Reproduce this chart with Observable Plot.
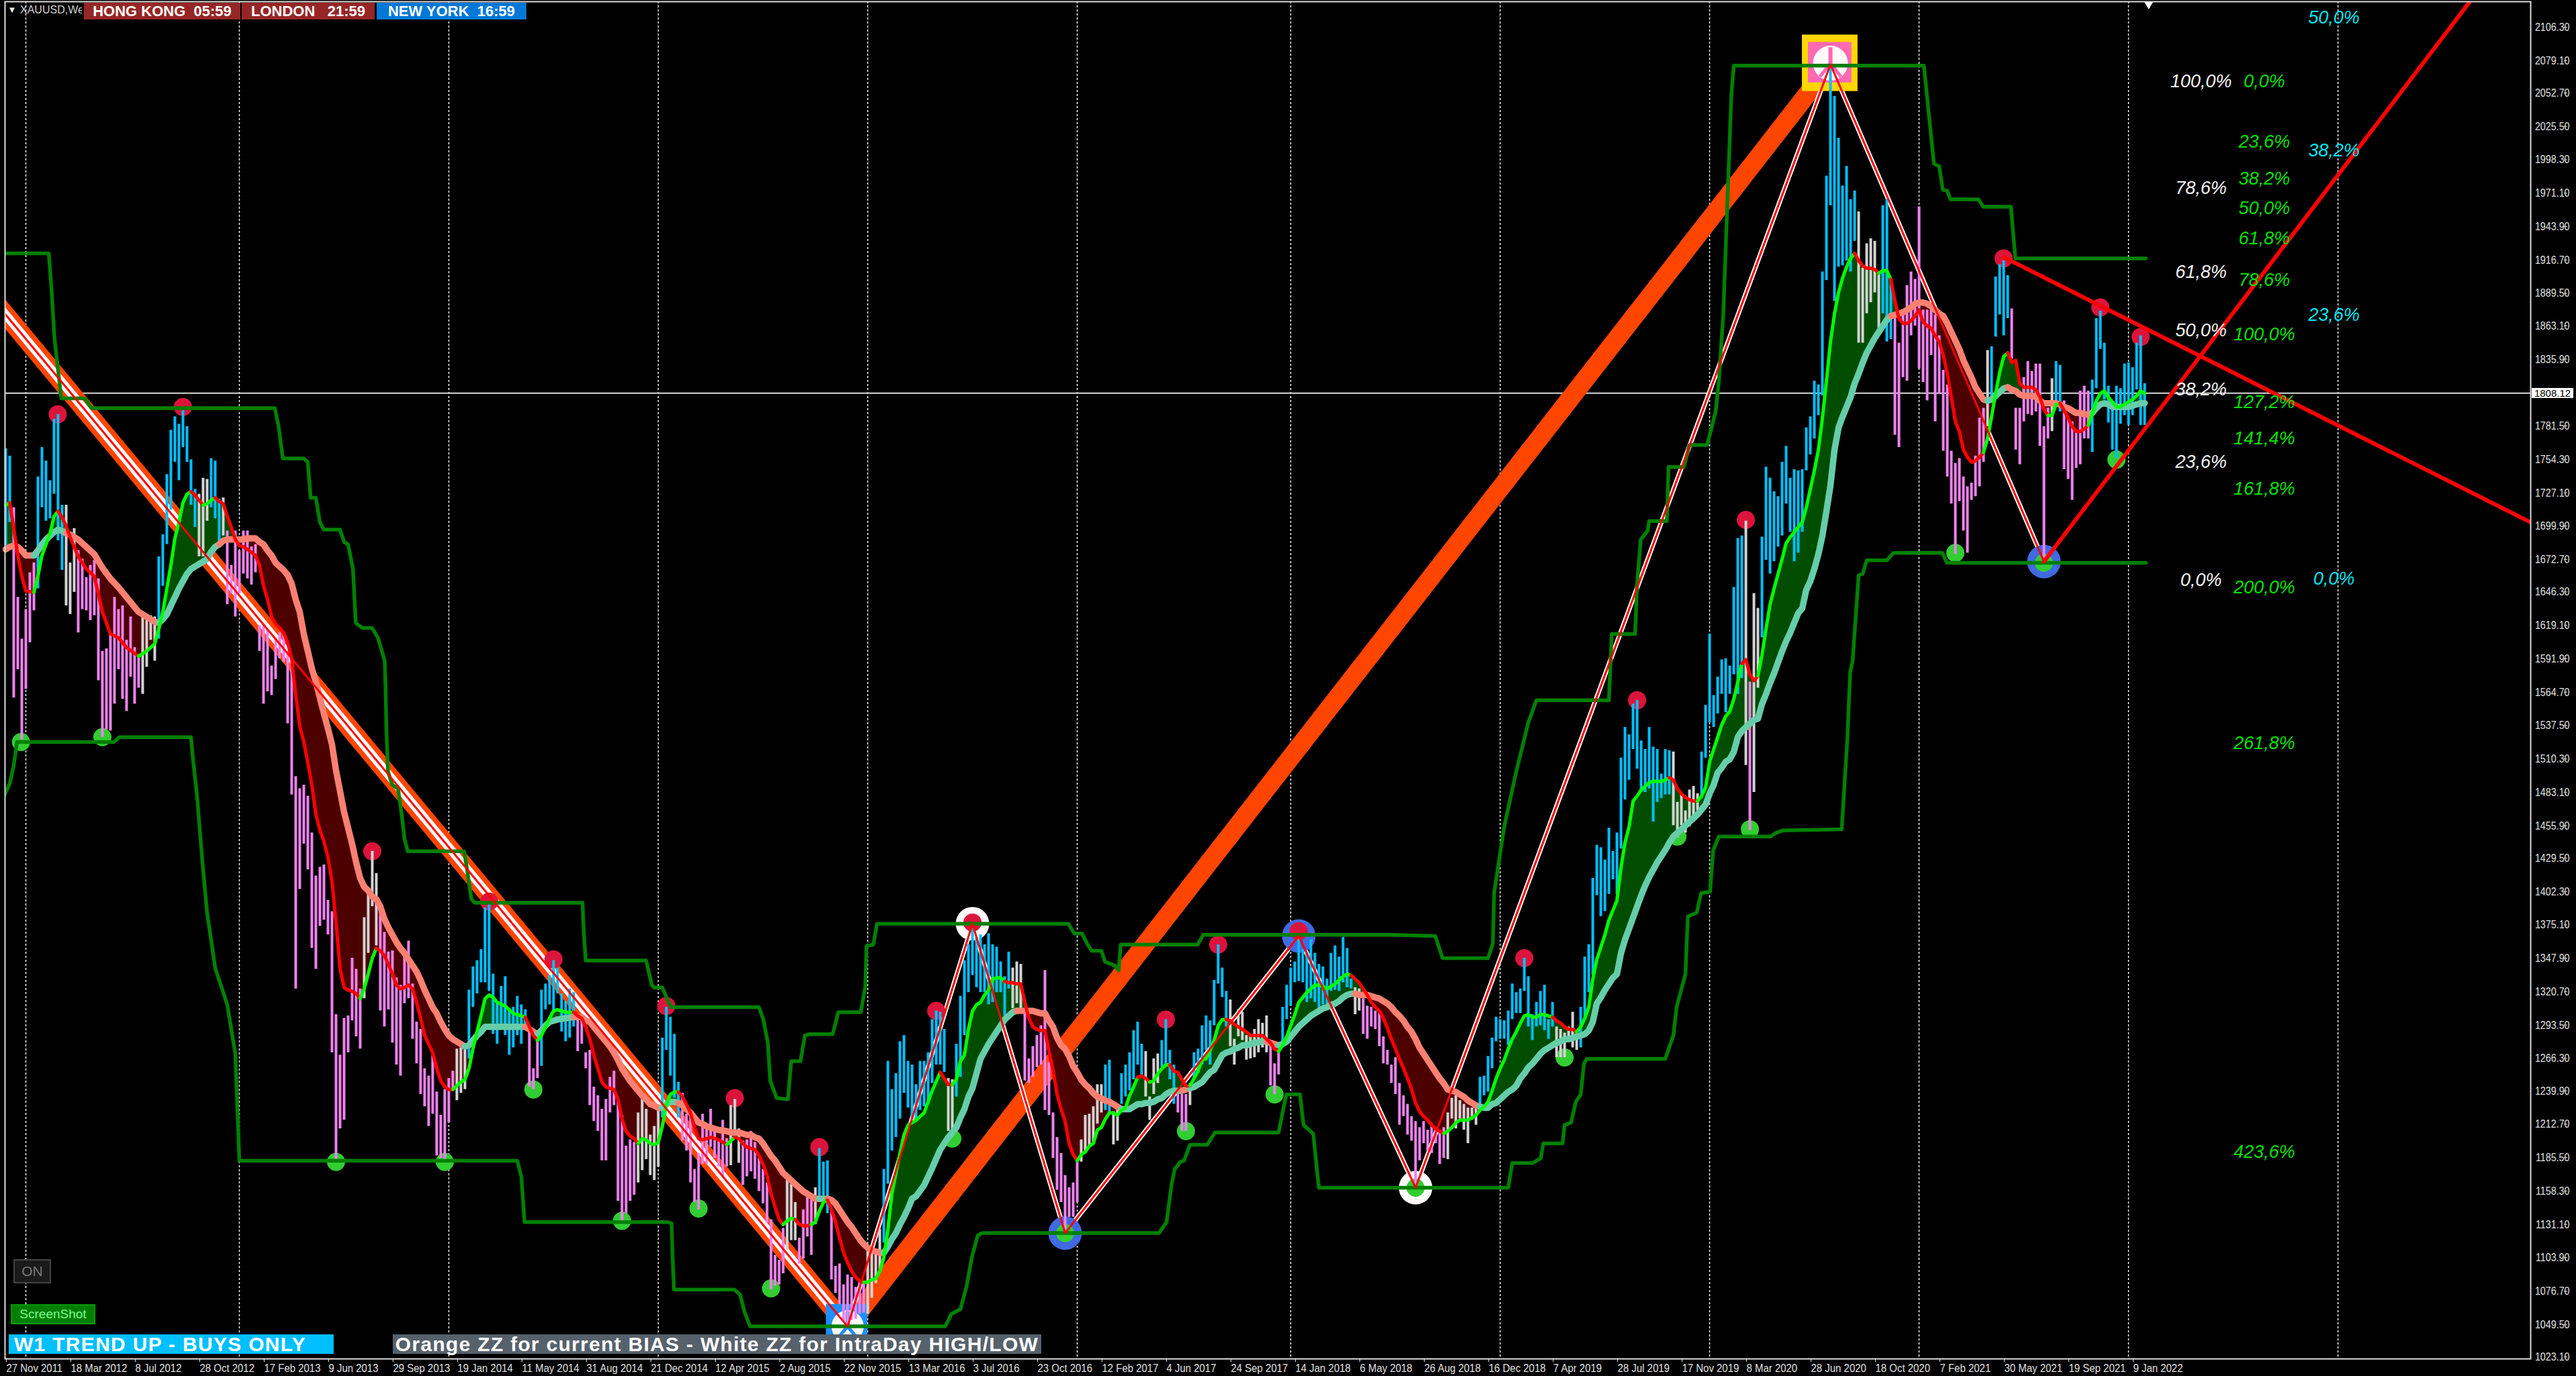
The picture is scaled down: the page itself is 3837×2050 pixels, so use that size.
<!DOCTYPE html>
<html><head><meta charset="utf-8">
<script src="https://cdn.jsdelivr.net/npm/d3@7"></script>
<script src="https://cdn.jsdelivr.net/npm/@observablehq/plot@0.6"></script>
<style>
html,body{margin:0;padding:0;background:#000;width:3837px;height:2050px;overflow:hidden}
#wrap{position:relative;width:3837px;height:2050px}
#wrap svg{display:block}
.tag{position:absolute;display:flex;align-items:center;justify-content:center;white-space:pre;font-family:"Liberation Sans",Arial,sans-serif;color:#fff;font-weight:bold;box-sizing:border-box}
</style></head><body><div id="wrap"></div>
<script>
// week index 0 = 27 Nov 2011, one entry per weekly bar
const barHigh=[
1763,1757,1715,1642,1608,1632,1662,1670,1740,1764,1753,1737,1787,1791,1717,1717,1670,1698,1680,1673,
1658,1668,1672,1657,1598,1600,1611,1642,1632,1635,1607,1626,1601,1594,1630,1628,1627,1626,1675,1693,
1742,1778,1789,1783,1794,1781,1754,1730,1726,1739,1738,1755,1753,1722,1723,1696,1668,1696,1680,1696,
1696,1683,1685,1619,1620,1615,1586,1609,1613,1611,1598,1592,1496,1486,1489,1480,1450,1415,1422,1424,
1395,1386,1302,1269,1299,1301,1348,1339,1323,1381,1401,1435,1417,1386,1369,1353,1354,1332,1326,1349,
1362,1327,1296,1290,1258,1252,1269,1239,1220,1241,1250,1256,1274,1275,1278,1322,1341,1346,1355,1389,
1392,1335,1311,1325,1333,1307,1308,1317,1310,1306,1292,1258,1281,1322,1327,1334,1346,1340,1319,1313,
1323,1320,1301,1300,1271,1273,1243,1236,1225,1233,1251,1256,1233,1220,1195,1200,1198,1222,1234,1225,
1204,1211,1224,1283,1308,1300,1286,1247,1238,1221,1219,1176,1189,1221,1210,1225,1208,1200,1216,1201,
1228,1233,1209,1199,1200,1207,1198,1185,1176,1165,1135,1106,1102,1128,1167,1164,1149,1120,1143,1153,
1151,1161,1193,1182,1183,1143,1097,1099,1082,1090,1088,1080,1084,1085,1111,1109,1108,1127,1176,1264,
1241,1254,1280,1285,1264,1261,1245,1264,1264,1271,1298,1305,1304,1290,1250,1249,1278,1317,1346,1359,
1376,1365,1367,1359,1368,1359,1357,1345,1333,1353,1340,1345,1343,1303,1266,1276,1285,1293,1338,1263,
1222,1202,1189,1171,1161,1165,1183,1200,1220,1221,1227,1245,1245,1261,1265,1223,1227,1254,1261,1271,
1289,1296,1278,1272,1235,1266,1270,1281,1298,1273,1261,1240,1237,1237,1246,1271,1274,1293,1301,1297,
1330,1359,1340,1321,1314,1282,1306,1304,1285,1284,1290,1298,1295,1301,1277,1262,1273,1308,1326,1340,
1345,1365,1355,1353,1363,1352,1343,1341,1331,1352,1358,1349,1365,1356,1331,1324,1323,1315,1309,1308,
1305,1304,1284,1273,1261,1267,1246,1236,1229,1219,1215,1210,1215,1208,1211,1208,1208,1210,1222,1234,
1236,1232,1229,1226,1226,1228,1251,1252,1268,1283,1300,1298,1297,1305,1327,1320,1323,1348,1333,1302,
1312,1321,1326,1298,1312,1292,1290,1287,1292,1304,1288,1308,1349,1359,1413,1440,1438,1428,1454,1435,
1450,1511,1536,1530,1555,1558,1525,1518,1536,1520,1518,1498,1518,1517,1516,1475,1482,1468,1485,1488,
1482,1516,1554,1612,1562,1577,1591,1592,1586,1650,1690,1692,1704,1573,1645,1633,1691,1748,1739,1728,
1724,1752,1765,1739,1746,1745,1746,1780,1789,1818,1815,1907,1985,2076,2050,2016,1977,1993,1966,1973,
1956,1910,1930,1934,1932,1905,1961,1966,1902,1871,1849,1873,1896,1907,1901,1960,1876,1876,1877,1872,
1855,1827,1815,1761,1751,1755,1740,1732,1735,1757,1788,1796,1843,1846,1903,1913,1916,1904,1877,1796,
1796,1821,1834,1826,1832,1832,1781,1796,1820,1834,1831,1802,1788,1785,1776,1810,1814,1810,1819,1869,
1875,1849,1814,1801,1814,1812,1832,1833,1829,1849,1855,1816];
const barLow=[
1684,1703,1560,1583,1526,1567,1605,1631,1649,1715,1704,1706,1726,1688,1664,1635,1628,1646,1613,1632,
1631,1623,1627,1574,1528,1534,1533,1555,1583,1559,1549,1577,1555,1568,1563,1585,1607,1590,1608,1651,
1685,1713,1752,1737,1764,1752,1717,1699,1675,1675,1704,1715,1706,1687,1692,1636,1645,1626,1645,1661,
1657,1652,1662,1598,1555,1565,1562,1575,1592,1589,1539,1481,1323,1404,1441,1420,1356,1339,1374,1379,
1367,1271,1182,1209,1216,1271,1297,1284,1274,1315,1352,1390,1358,1305,1292,1306,1279,1261,1252,1311,
1315,1282,1262,1237,1227,1211,1221,1187,1185,1182,1214,1241,1232,1238,1241,1266,1308,1319,1328,1328,
1321,1286,1278,1292,1285,1269,1275,1285,1278,1292,1243,1241,1250,1260,1306,1310,1304,1319,1288,1280,
1283,1292,1272,1278,1258,1228,1215,1207,1183,1183,1222,1228,1150,1134,1140,1150,1155,1165,1175,1184,
1171,1167,1178,1218,1273,1252,1234,1218,1199,1191,1165,1149,1143,1180,1180,1194,1185,1178,1170,1178,
1179,1203,1181,1163,1170,1174,1168,1158,1148,1132,1078,1081,1082,1091,1110,1118,1118,1099,1103,1121,
1106,1131,1154,1154,1140,1086,1075,1066,1052,1048,1053,1054,1058,1059,1058,1071,1083,1093,1116,1164,
1191,1202,1217,1238,1226,1217,1215,1224,1227,1229,1246,1261,1261,1255,1207,1205,1235,1251,1285,1320,
1334,1324,1320,1320,1310,1312,1320,1320,1300,1323,1307,1311,1306,1248,1246,1251,1259,1261,1224,1220,
1185,1159,1149,1124,1137,1137,1149,1182,1190,1195,1198,1213,1222,1224,1221,1196,1199,1229,1235,1240,
1249,1261,1251,1235,1216,1237,1246,1259,1261,1249,1229,1222,1207,1207,1228,1249,1254,1261,1273,1261,
1293,1327,1316,1292,1276,1261,1284,1281,1265,1266,1267,1271,1275,1271,1244,1237,1253,1280,1298,1309,
1328,1329,1328,1312,1315,1312,1307,1310,1310,1321,1322,1321,1328,1324,1323,1302,1305,1286,1282,1292,
1290,1276,1262,1261,1246,1237,1212,1219,1204,1199,1162,1183,1197,1191,1189,1197,1180,1185,1184,1217,
1209,1217,1208,1197,1216,1212,1229,1236,1239,1258,1280,1282,1282,1277,1298,1303,1303,1321,1292,1281,
1292,1293,1289,1282,1292,1267,1267,1267,1282,1275,1273,1275,1300,1320,1334,1399,1382,1386,1400,1412,
1400,1437,1477,1493,1518,1502,1483,1483,1486,1459,1475,1478,1481,1481,1456,1446,1456,1450,1455,1459,
1468,1478,1511,1540,1536,1547,1563,1548,1563,1579,1563,1576,1505,1452,1483,1568,1609,1672,1661,1671,
1683,1692,1718,1695,1671,1678,1695,1745,1758,1771,1790,1806,1900,1961,1883,1911,1912,1916,1907,1932,
1849,1849,1873,1882,1890,1861,1873,1850,1852,1774,1764,1821,1818,1855,1863,1828,1817,1802,1839,1785,
1808,1761,1740,1718,1677,1720,1696,1678,1721,1724,1732,1752,1781,1801,1854,1872,1855,1869,1836,1762,
1750,1785,1791,1790,1793,1765,1671,1771,1777,1798,1793,1746,1738,1721,1747,1750,1771,1771,1760,1812,
1844,1803,1784,1762,1755,1783,1790,1782,1790,1811,1782,1782];
// trend of each bar as runs: kind, number of bars (b = up, p = down, g = neutral)
const barRuns=[["b",2],["p",6],["b",7],["g",3],["p",16],["g",4],["b",10],["g",3],["b",3],["g",1],["p",34],["g",4],["p",19],["g",3],["b",15],["p",3],["b",9],["p",15],["g",6],["b",5],["p",12],["g",3],["p",11],["g",3],["p",4],["g",1],["b",3],["p",9],["g",4],["b",16],["g",2],["b",14],["g",3],["p",14],["g",6],["b",2],["g",2],["b",6],["g",4],["b",4],["p",3],["g",1],["b",9],["g",10],["p",3],["b",18],["g",2],["p",21],["g",8],["b",19],["g",6],["b",23],["g",7],["b",11],["g",1],["p",1],["g",2],["b",24],["g",6],["b",3],["p",23],["g",1],["b",5],["p",10],["g",1],["b",2],["p",7],["b",14]];

const maWeeks=[
0,1,2,3,4,5,7,8,9,10,11,12,13,14,15,16,18,20,22,24,
26,28,30,33,35,37,38,39,40,41,42,43,44,45,46,47,48,49,50,51,
52,53,54,55,56,57,58,59,60,62,63,64,65,66,67,68,69,70,71,72,
73,74,75,76,77,78,79,80,81,82,83,84,85,86,87,88,89,90,91,92,
93,94,95,96,97,98,99,100,101,102,103,104,105,106,107,108,109,110,111,112,
113,114,115,116,117,118,119,120,121,122,124,126,128,129,130,131,132,133,134,135,
136,137,139,141,142,143,144,145,146,147,148,149,150,151,152,153,154,155,156,157,
158,159,160,161,162,163,164,165,166,167,168,169,170,171,172,173,174,175,177,179,
180,181,182,183,184,185,186,187,188,189,190,191,192,193,194,195,196,197,198,199,
200,201,202,203,204,205,206,207,208,209,210,211,212,213,214,215,216,217,218,219,
220,221,222,223,224,225,226,228,230,232,234,235,236,237,238,239,240,241,242,243,
244,245,246,247,248,249,250,251,252,253,254,255,256,257,258,259,260,261,262,263,
264,265,266,267,268,269,270,271,272,273,274,275,276,277,278,279,280,281,282,283,
284,285,286,287,288,289,290,291,292,293,294,295,296,297,298,299,300,301,302,303,
304,305,306,307,308,309,310,312,313,314,315,316,317,318,319,320,321,322,323,324,
325,326,327,328,329,330,331,332,333,334,335,336,337,338,339,340,341,342,343,344,
345,346,347,348,349,350,351,352,353,354,355,356,357,358,359,360,361,362,363,364,
365,366,367,368,369,370,371,372,373,374,375,376,377,378,379,380,381,382,383,384,
385,386,387,388,389,390,391,392,393,394,395,396,397,398,399,400,401,402,403,404,
405,406,407,408,409,410,411,412,413,414,415,416,417,418,419,420,421,422,423,424,
425,426,427,428,429,430,431,432,433,434,435,436,437,438,439,440,441,442,443,444,
445,446,447,448,449,450,451,452,453,454,455,456,457,458,459,460,461,462,463,464,
465,466,467,468,469,470,471,472,473,474,475,476,477,478,479,480,481,482,483,484,
485,486,487,488,489,490,491,492,493,494,495,496,497,498,499,500,501,502,503,504,
505,506,507,508,509,510,511,512,513,514,515,516,517,518,519,520,521,522,523,524,
525,526,527,528,529,530,531];
const maFast=[
1717,1719,1698,1676,1659,1647,1646,1659,1676,1685,1694,1708,1712,1707,1700,1691,1675,1665,1659,1630,
1612,1609,1601,1594,1598,1604,1616,1630,1649,1668,1690,1703,1719,1726,1728,1725,1721,1717,1718,1721,
1723,1720,1718,1708,1699,1689,1684,1683,1681,1676,1668,1651,1640,1626,1620,1617,1613,1605,1592,1562,
1537,1524,1507,1489,1465,1452,1443,1430,1410,1377,1339,1324,1322,1321,1319,1315,1323,1335,1348,1356,
1354,1350,1343,1335,1326,1323,1324,1326,1323,1312,1299,1285,1278,1271,1258,1248,1243,1241,1241,1244,
1247,1249,1258,1274,1288,1301,1315,1318,1316,1312,1309,1303,1301,1300,1292,1285,1281,1285,1292,1299,
1305,1306,1304,1304,1301,1299,1292,1282,1269,1258,1247,1243,1242,1241,1233,1217,1207,1203,1201,1197,
1201,1200,1197,1196,1198,1211,1228,1237,1239,1239,1235,1229,1222,1210,1201,1200,1201,1202,1200,1196,
1199,1202,1201,1197,1194,1193,1192,1187,1180,1171,1156,1145,1135,1131,1134,1136,1135,1131,1130,1130,
1131,1133,1142,1149,1151,1143,1133,1120,1108,1100,1093,1088,1085,1084,1084,1086,1087,1093,1104,1127,
1156,1173,1189,1204,1212,1214,1216,1222,1240,1255,1245,1245,1249,1264,1269,1290,1305,1310,1312,1318,
1322,1331,1332,1332,1329,1328,1328,1327,1327,1312,1299,1292,1290,1289,1289,1272,1257,1237,1225,1215,
1197,1188,1183,1188,1190,1195,1197,1208,1210,1217,1222,1222,1220,1224,1226,1236,1243,1251,1252,1250,
1247,1248,1254,1258,1261,1261,1256,1255,1249,1244,1244,1250,1256,1265,1266,1273,1281,1293,1298,1298,
1297,1294,1292,1290,1288,1285,1285,1285,1282,1279,1274,1272,1277,1284,1293,1302,1312,1316,1320,1323,
1326,1326,1325,1323,1325,1327,1330,1333,1335,1334,1331,1328,1323,1318,1312,1308,1305,1299,1291,1282,
1274,1266,1258,1250,1241,1230,1223,1219,1216,1212,1209,1207,1205,1207,1210,1214,1216,1216,1216,1218,
1220,1224,1227,1231,1240,1250,1258,1265,1274,1282,1288,1295,1301,1302,1300,1300,1302,1302,1301,1300,
1297,1295,1292,1290,1290,1288,1292,1299,1308,1331,1347,1357,1367,1379,1387,1395,1422,1442,1455,1476,
1480,1485,1488,1491,1492,1492,1492,1493,1495,1493,1486,1482,1479,1477,1476,1476,1480,1487,1508,1518,
1528,1538,1545,1549,1559,1573,1588,1591,1579,1574,1578,1595,1616,1636,1649,1661,1673,1686,1691,1695,
1699,1703,1715,1730,1745,1762,1788,1818,1850,1873,1890,1902,1911,1918,1922,1916,1912,1910,1910,1909,
1906,1908,1908,1901,1883,1869,1865,1865,1867,1871,1876,1866,1863,1861,1855,1850,1839,1824,1805,1785,
1777,1762,1756,1752,1753,1756,1760,1771,1789,1808,1825,1838,1841,1833,1835,1816,1813,1813,1813,1811,
1805,1795,1790,1790,1799,1800,1794,1788,1781,1777,1777,1779,1782,1791,1802,1808,1810,1805,1801,1797,
1797,1799,1801,1803,1806,1810,1808];
const maSlow=[
1681,1683,1684,1683,1680,1676,1676,1680,1685,1689,1692,1695,1697,1696,1694,1693,1689,1683,1677,1666,
1657,1650,1642,1630,1626,1622,1621,1624,1628,1635,1642,1649,1655,1661,1665,1667,1669,1671,1673,1679,
1683,1685,1688,1689,1689,1689,1689,1689,1690,1690,1687,1685,1680,1676,1670,1667,1664,1660,1653,1640,
1630,1612,1598,1584,1573,1560,1547,1535,1522,1501,1484,1467,1454,1441,1426,1413,1406,1403,1398,1396,
1390,1380,1373,1367,1361,1356,1352,1347,1342,1337,1330,1322,1315,1308,1303,1296,1290,1285,1282,1280,
1278,1276,1277,1281,1285,1288,1292,1292,1292,1292,1292,1292,1292,1292,1290,1288,1286,1289,1293,1296,
1297,1298,1299,1300,1300,1300,1297,1296,1292,1288,1284,1280,1276,1271,1265,1258,1253,1248,1244,1240,
1236,1233,1229,1228,1226,1226,1229,1231,1231,1230,1228,1225,1222,1218,1214,1213,1211,1210,1208,1207,
1206,1206,1206,1205,1204,1204,1202,1201,1197,1192,1187,1183,1178,1173,1170,1167,1164,1161,1158,1156,
1154,1152,1152,1152,1152,1151,1148,1143,1138,1133,1129,1124,1119,1115,1112,1110,1109,1108,1108,1113,
1119,1124,1131,1137,1144,1152,1154,1163,1177,1192,1202,1206,1210,1218,1225,1235,1242,1254,1266,1272,
1278,1283,1288,1293,1298,1301,1304,1305,1305,1305,1305,1305,1304,1303,1303,1297,1292,1283,1277,1274,
1268,1260,1255,1249,1245,1242,1238,1235,1234,1232,1231,1229,1227,1225,1225,1225,1227,1229,1229,1230,
1230,1231,1233,1234,1237,1239,1240,1240,1240,1241,1242,1243,1245,1247,1251,1255,1257,1263,1269,1271,
1272,1274,1275,1277,1277,1278,1279,1280,1280,1279,1278,1277,1278,1280,1284,1288,1292,1295,1298,1301,
1303,1305,1307,1308,1310,1311,1313,1316,1318,1319,1319,1318,1318,1318,1317,1316,1315,1313,1311,1308,
1304,1301,1297,1292,1288,1282,1275,1270,1265,1260,1255,1250,1246,1241,1240,1239,1237,1235,1232,1230,
1228,1227,1226,1226,1229,1230,1233,1236,1239,1241,1244,1250,1254,1259,1262,1266,1270,1273,1275,1277,
1279,1280,1282,1282,1283,1284,1285,1286,1289,1296,1311,1316,1322,1327,1332,1335,1352,1363,1372,1381,
1390,1399,1407,1414,1420,1426,1431,1436,1442,1447,1450,1453,1456,1459,1462,1465,1469,1473,1482,1489,
1499,1503,1508,1510,1516,1528,1533,1536,1539,1542,1543,1555,1563,1572,1580,1589,1598,1606,1613,1621,
1629,1633,1648,1655,1665,1677,1692,1712,1733,1762,1780,1789,1797,1805,1816,1824,1833,1841,1847,1853,
1858,1863,1868,1871,1872,1873,1874,1876,1878,1881,1882,1882,1881,1879,1876,1873,1871,1865,1858,1851,
1844,1835,1828,1821,1813,1808,1803,1802,1803,1806,1809,1812,1813,1811,1810,1807,1806,1806,1806,1805,
1802,1800,1800,1800,1800,1799,1797,1796,1794,1792,1792,1791,1791,1792,1796,1799,1800,1799,1797,1797,
1797,1797,1797,1798,1799,1800,1800];
// weeks at which the colour of each average changes
const fastFlips=[1,7,13,33,46,49,52,88,92,111,129,132,141,157,167,179,181,193,196,200,204,213,232,235,248,266,281,284,289,294,303,316,334,357,384,390,413,420,431,435,459,465,468,491,497,507,510,517];
const slowFlips=[7,15,38,53,114,129,132,141,163,167,202,204,218,251,277,292,294,313,316,335,366,468,492,497,518];

const upperBand=[[-1,1922],[10.7,1922],[11.4,1891],[12.1,1853],[13.8,1804],[19.6,1804],[21.3,1796],[66.8,1796],[67.7,1782],[68.8,1755],[74,1755],[75,1752],[75.7,1723],[77,1723],[78,1703],[79,1697],[83,1697],[84,1687],[85,1685],[86.2,1665],[86.9,1621],[88.5,1617],[90.9,1617],[92.4,1609],[94.1,1590],[94.3,1568],[94.5,1535],[94.9,1500],[96,1489],[97.4,1486],[98.3,1465],[99,1445],[99.8,1435],[113.8,1435],[114.5,1421],[115.6,1396],[116.5,1393],[143.2,1393],[143.5,1369],[144,1346],[159,1346],[160.4,1326],[161,1324],[163,1324],[164.6,1312],[165.3,1308],[187,1308],[188.1,1298],[189.2,1279],[189.8,1248],[191.4,1234],[194.2,1233],[195,1264],[197.3,1264],[198.4,1285],[199.5,1286],[205.3,1286],[206.7,1304],[212.3,1304],[213.4,1325],[213.7,1358],[215.4,1359],[216.3,1376],[263.8,1376],[265.3,1368],[267.2,1368],[268.6,1359],[269.6,1354],[272,1354],[272.9,1345],[275.3,1342],[276.3,1338],[276.8,1359],[295.9,1359],[297.3,1367],[343.9,1367],[354.9,1366],[356.7,1348],[368,1348],[369.2,1360],[369.5,1401],[372,1455],[375,1500],[378,1540],[380,1558],[398,1558],[398.4,1588],[398.7,1612],[404.5,1612],[405,1653],[405.9,1689],[407.6,1696],[408,1704],[412.4,1704],[412.8,1748],[416.6,1748],[418,1766],[422.4,1766],[424.5,1793],[425.3,1818],[426.4,1873],[427.6,1980],[428.4,2051],[429,2075],[476.2,2075],[477,2049],[478.7,1995],[480,1993],[480.9,1974],[482,1973],[482.8,1966],[489.8,1966],[490.9,1960],[497.8,1960],[498.9,1918],[531.3,1918]];
const lowerBand=[[-1,1476],[1,1490],[2,1505],[2.8,1524],[26.9,1524],[28.2,1528],[46,1528],[46.5,1510],[47.5,1480],[49,1420],[50,1385],[52,1340],[55,1310],[57,1270],[58,1183],[127,1183],[128,1170],[128.8,1133],[164.2,1133],[165.3,1132],[165.6,1101],[165.9,1078],[180.9,1078],[182.3,1074],[183.4,1060],[184.8,1048],[233.2,1048],[234.2,1054],[234.7,1058],[237,1062],[238.5,1080],[239.9,1105],[241.3,1122],[242.3,1124],[286.3,1124],[288.2,1133],[289.4,1163],[290.2,1176],[291.6,1182],[292.5,1183],[294,1196],[298.3,1196],[300.2,1206],[316,1206],[317.9,1237],[321.3,1237],[322.2,1212],[324.6,1205],[325.6,1173],[326,1161],[373,1161],[374,1181],[379,1181],[381.1,1185],[381.7,1197],[386.5,1197],[387,1212],[388.6,1214],[389.8,1231],[391,1237],[391.8,1262],[392.5,1266],[412,1266],[414,1285],[414.8,1308],[417,1335],[417.6,1382],[419.8,1385],[420.9,1401],[423.1,1402],[423.9,1436],[425.3,1447],[438.1,1447],[439.5,1450],[441.2,1452],[455.8,1453],[457.2,1527],[457.9,1581],[458.5,1590],[460,1660],[461,1661],[462,1672],[467,1672],[468.6,1678],[480.8,1678],[481.9,1670],[531.3,1670]];

const orangeZZ=[[-10,1911.5],[209,1048],[453,2076]];
const whiteFirstLeg=[[-10,1911.5],[209,1048]];
const whiteZZ=[[209,1048],[240,1376],[263,1124],[321,1366],[350,1161],[453,2076],[506,1671]];
const redZZ=[[-10,1911.5],[209,1048],[240,1376],[263,1124],[321,1366],[350,1161],[453,2076],[506,1671]];
const redRising=[[506,1671],[611.7,2127]];
const redFalling=[[496,1919],[626.8,1703]];

const highDots=[[12.9,1791],[44,1797],[91,1435],[120,1394],[136,1347],[164,1309],[181,1234],[202,1194],[231,1305],[240,1377],[288,1298],[301,1359],[321,1370],[377,1348],[405,1558],[432,1705],[496,1918],[520,1878],[530,1854]];
const lowDots=[[3.8,1524],[24,1528],[82,1182],[109,1182],[131,1241],[153,1134],[172,1144],[190,1079],[235,1201],[263,1124],[293,1207],[315,1237],[350,1161],[387,1267],[415,1447],[433,1453],[484,1678],[506,1670],[524,1754]];
const whiteRings=[[240,1376],[350,1161]];
const blueRings=[[263,1124],[321,1366],[506,1671]];
const salmonBlip=[[432.4,1537]];

const gridWeeks=[5,58,110,162,214,266,319,371,423,475,527,579];
const dateTickWeeks=d3.range(0,529,16);
const dateLabels=["27 Nov 2011","18 Mar 2012","8 Jul 2012","28 Oct 2012","17 Feb 2013","9 Jun 2013","29 Sep 2013","19 Jan 2014","11 May 2014","31 Aug 2014","21 Dec 2014","12 Apr 2015","2 Aug 2015","22 Nov 2015","13 Mar 2016","3 Jul 2016","23 Oct 2016","12 Feb 2017","4 Jun 2017","24 Sep 2017","14 Jan 2018","6 May 2018","26 Aug 2018","16 Dec 2018","7 Apr 2019","28 Jul 2019","17 Nov 2019","8 Mar 2020","28 Jun 2020","18 Oct 2020","7 Feb 2021","30 May 2021","19 Sep 2021","9 Jan 2022"];
const priceTicks=[2106.30,2079.10,2052.70,2025.50,1998.30,1971.10,1943.90,1916.70,1889.50,1863.10,1835.90,1781.50,1754.30,1727.10,1699.90,1672.70,1646.30,1619.10,1591.90,1564.70,1537.50,1510.30,1483.10,1455.90,1429.50,1402.30,1375.10,1347.90,1320.70,1293.50,1266.30,1239.90,1212.70,1185.50,1158.30,1131.10,1103.90,1076.70,1049.50,1023.10];
const lastPrice=1808.12;

const retraceLabels=[["100,0%",2062],["78,6%",1975],["61,8%",1907],["50,0%",1859],["38,2%",1811],["23,6%",1752],["0,0%",1656]];
const extensionLabels=[["0,0%",2062],["23,6%",2013],["38,2%",1983],["50,0%",1959],["61,8%",1934],["78,6%",1900],["100,0%",1856],["127,2%",1801],["141,4%",1771],["161,8%",1730],["200,0%",1650],["261,8%",1523],["423,6%",1190]];
const projectionLabels=[["50,0%",2114],["38,2%",2006],["23,6%",1872],["0,0%",1657]];
const retraceWeek=545, extensionWeek=560.7, projectionWeek=578;

// signal boxes: weeks and prices of their corners
const peakBoxOuter=[{x1:446,x2:459.8,y1:2054,y2:2100}];
const peakBoxInner=[{x1:447.5,x2:458.3,y1:2061,y2:2094}];
const lowBox=[{x1:203.7,x2:214,y1:1031,y2:1066}];
const peaceMarks=[
 {w:453,p:2077,r:26,col:"#ff69b4",dw:1,dp:13},
 {w:209,p:1048,r:24,col:"#1e90ff",dw:1,dp:12}];

const COL={b:"#00bfff",p:"#ee82ee",g:"#d3d3d3"};
if(maFast.length!==maWeeks.length||maSlow.length!==maWeeks.length) throw new Error("ma lengths "+maWeeks.length+" "+maFast.length+" "+maSlow.length);
if(barHigh.length!==barLow.length) throw new Error("bar lengths "+barHigh.length+" "+barLow.length);

const kinds=barRuns.flatMap(([k,n])=>Array(n).fill(k));
const bars=barHigh.map((h,i)=>({w:i,h,l:barLow[i],k:COL[kinds[i]]||COL.b}));

function segRows(vals,flips,colors){
  const rows=[];let seg=0,prev=null;
  for(let i=0;i<maWeeks.length-1;i++){
    const col=colors[flips.filter(f=>f<=maWeeks[i]).length%2];
    if(col!==prev){seg++;prev=col;}
    rows.push({x:maWeeks[i],y:vals[i],seg,color:col},{x:maWeeks[i+1],y:vals[i+1],seg,color:col});
  }
  return rows;
}
const fastRows=segRows(maFast,fastFlips,["#00ff00","#ff0000"]);
const slowRows=segRows(maSlow,slowFlips,["#fa8072","#66cdaa"]);
const fillRows=[];{
  let seg=0,prev=null;
  for(let i=0;i<maWeeks.length-1;i++){
    const col=(maFast[i]+maFast[i+1]>=maSlow[i]+maSlow[i+1])?"#004d00":"#4d0000";
    if(col!==prev){seg++;prev=col;}
    fillRows.push({x:maWeeks[i],a:maFast[i],b:maSlow[i],seg,color:col},{x:maWeeks[i+1],a:maFast[i+1],b:maSlow[i+1],seg,color:col});
  }
}
const axisFont='"Liberation Sans",Arial,sans-serif';
const fibFont='"Liberation Sans",Arial,sans-serif';
const X=d=>d[0],Y=d=>d[1];
const L=(data,stroke,strokeWidth,extra={})=>Plot.line(data,{x:X,y:Y,stroke,strokeWidth,clip:true,...extra});
const fib=(rows,week,fill)=>Plot.text(rows,{x:()=>week,y:d=>d[1],text:d=>d[0],fill,fontSize:27,fontStyle:"italic",fontFamily:fibFont,textAnchor:"middle",clip:false});

const peaceGlyph=peaceMarks.flatMap(m=>[
  Plot.dot([m],{x:"w",y:"p",r:m.r,fill:"#fffafa"}),
  Plot.link([m],{x1:"w",x2:"w",y1:d=>d.p+d.dp,y2:"p",stroke:m.col,strokeWidth:6}),
  Plot.link([m],{x1:"w",x2:d=>d.w-d.dw*2.6,y1:"p",y2:d=>d.p-d.dp*.85,stroke:m.col,strokeWidth:5}),
  Plot.link([m],{x1:"w",x2:d=>d.w+d.dw*2.6,y1:"p",y2:d=>d.p-d.dp*.85,stroke:m.col,strokeWidth:5})
]);

const chart=Plot.plot({
  width:3837,height:2050,
  marginLeft:7,marginRight:68,marginTop:2,marginBottom:26,
  x:{type:"linear",domain:[-1/6,(3769-8)/6]},
  y:{type:"linear",domain:[1021.55,2127.08]},
  color:{type:"identity"},
  style:{background:"#000",color:"#e0e0e0"},
  marks:[
    Plot.ruleX(gridWeeks,{stroke:"#fff",strokeWidth:1.5,strokeDasharray:"3,3"}),
    Plot.ruleY([lastPrice],{stroke:"#d8d8d8",strokeWidth:2}),
    L(orangeZZ,"#ff4500",28,{strokeLinejoin:"miter"}),
    L(whiteFirstLeg,"#fffafa",13),
    L(whiteZZ,"#fffafa",7),
    Plot.rect(peakBoxOuter,{x1:"x1",x2:"x2",y1:"y1",y2:"y2",fill:"#ffd700"}),
    Plot.rect(peakBoxInner,{x1:"x1",x2:"x2",y1:"y1",y2:"y2",fill:"#ff69b4"}),
    Plot.rect(lowBox,{x1:"x1",x2:"x2",y1:"y1",y2:"y2",fill:"#1e90ff"}),
    ...peaceGlyph,
    Plot.dot(whiteRings,{x:X,y:Y,r:25,fill:"#fffafa"}),
    Plot.dot(blueRings,{x:X,y:Y,r:25,fill:"#4169e1"}),
    Plot.dot(highDots,{x:X,y:Y,r:13.5,fill:"#dc143c"}),
    Plot.dot(lowDots,{x:X,y:Y,r:13.5,fill:"#32cd32"}),
    Plot.areaY(fillRows,{x:"x",y1:"a",y2:"b",z:"seg",fill:"color",curve:"linear"}),
    Plot.ruleX(bars,{x:"w",y1:"l",y2:"h",stroke:"k",strokeWidth:4}),
    Plot.dot(salmonBlip,{x:X,y:Y,r:6,fill:"#fa8072"}),
    Plot.line(slowRows,{x:"x",y:"y",z:"seg",stroke:"color",strokeWidth:9.5}),
    Plot.line(fastRows,{x:"x",y:"y",z:"seg",stroke:"color",strokeWidth:5}),
    L(upperBand,"#008000",5.5),
    L(lowerBand,"#008000",5.5),
    L(redZZ,"#ff0000",3),
    L(redRising,"#ff0000",6),
    L(redFalling,"#ff0000",6),
    fib(retraceLabels,retraceWeek,"#f5f5f5"),
    fib(extensionLabels,extensionWeek,"#00e000"),
    fib(projectionLabels,projectionWeek,"#00e5ee"),
    Plot.dot([[532,2125]],{x:X,y:Y,symbol:"triangle",rotate:180,r:5,fill:"#fff"}),
    Plot.frame({stroke:"#dcdcdc",strokeWidth:2}),
    Plot.axisY(priceTicks,{anchor:"right",label:null,tickSize:5,tickPadding:4,tickFormat:d=>d.toFixed(2),textAnchor:"end",dx:49,fontSize:17,fontFamily:axisFont,color:"#e0e0e0"}),
    Plot.axisX(dateTickWeeks,{anchor:"bottom",label:null,tickSize:5,tickPadding:2,tickFormat:d=>dateLabels[d/16],textAnchor:"start",dx:1,fontSize:17,fontFamily:axisFont,color:"#e0e0e0"})
  ]
});
const wrap=document.getElementById("wrap");
wrap.appendChild(chart);
// the platform's axis lettering is a condensed face: narrow the axis labels to match
chart.querySelectorAll('g[aria-label="y-axis tick label"] text').forEach(t=>{
  t.setAttribute("textLength",(t.getComputedTextLength()*0.84).toFixed(1));
  t.setAttribute("lengthAdjust","spacingAndGlyphs");
});
chart.querySelectorAll('g[aria-label="x-axis tick label"] text').forEach(t=>{
  t.setAttribute("textLength",(t.getComputedTextLength()*0.88).toFixed(1));
  t.setAttribute("lengthAdjust","spacingAndGlyphs");
});
function tag(text,x,y,w,h,bg,color,size,extra={}){
  const d=document.createElement("div");d.className="tag";d.textContent=text;
  Object.assign(d.style,{left:x+"px",top:y+"px",width:w+"px",height:h+"px",background:bg,color,fontSize:size+"px"},extra);
  wrap.appendChild(d);return d;
}
tag("\u25BC",8,4,20,20,"transparent","#eee",13,{fontWeight:"normal"});
tag("XAUUSD,Week",30,5,92,20,"transparent","#d0d0d0",16,{fontWeight:"normal",justifyContent:"flex-start",overflow:"hidden"});
tag("HONG KONG  05:59",125,4,233,25,"#962626","#fff",22);
tag("LONDON   21:59",360,4,198,25,"#962626","#fff",22);
tag("NEW YORK  16:59",561,4,223,25,"#0078d7","#fff",22);
tag("ON",20,1876,56,36,"#1a1a1a","#777",21,{fontWeight:"normal",border:"2px solid #444"});
tag("ScreenShot",16,1943,126,30,"#007f00","#7cfc90",19,{fontWeight:"normal",border:"2px solid #009a00"});
tag("W1 TREND UP - BUYS ONLY",13,1988,484,29,"#00bfff","#fff",30,{justifyContent:"flex-start",paddingLeft:"8px",letterSpacing:"1.3px"});
tag("Orange ZZ for current BIAS - White ZZ for IntraDay HIGH/LOW",585,1988,966,29,"#56616b","#fff",30,{letterSpacing:"1.3px"});
tag("1808.12",3771,578,62,15,"#fff","#000",15,{fontWeight:"normal"});
</script></body></html>
